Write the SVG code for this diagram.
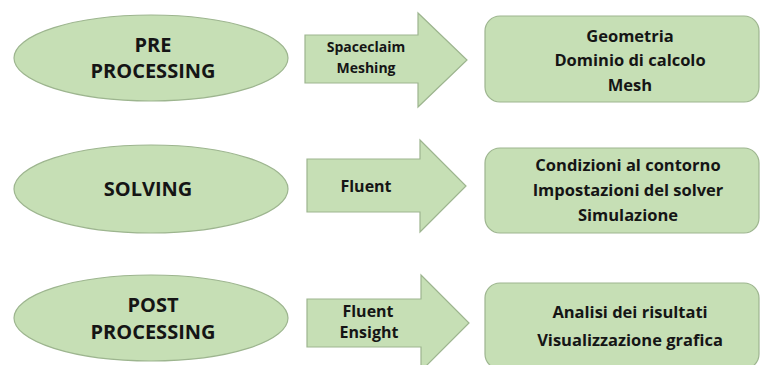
<svg xmlns="http://www.w3.org/2000/svg" width="760" height="365" viewBox="0 0 760 365">
<style>
.shape{fill:#c6dfb5;stroke:#9db58f;stroke-width:1.2}
text{font-family:"Open Sans","Liberation Sans",sans-serif;font-weight:bold;fill:#151515;text-anchor:middle}
.e{font-size:20px}
.a1{font-size:14px}
.a{font-size:16px}
.b{font-size:16.5px}
</style>
<rect width="760" height="365" fill="#ffffff"/>
<g id="connectors">
<g id="arrow1">
<path class="shape" d="M305,35 H418 V13 L467,60 L418,107 V83 H305 Z"/>
<text class="a1" x="366" y="52">Spaceclaim</text>
<text class="a1" x="366" y="73">Meshing</text>
</g>
<g id="arrow2">
<path class="shape" d="M307,159 H420 V140 L466,186 L420,232 V212 H307 Z"/>
<text class="a" x="366" y="192">Fluent</text>
</g>
<g id="arrow3">
<path class="shape" d="M307,299 H421 V275 L469,323 L421,371 V347 H307 Z"/>
<text class="a" x="368" y="317">Fluent</text>
<text class="a" x="369" y="338">Ensight</text>
</g>
</g>
<g id="pre">
<ellipse class="shape" cx="151" cy="58" rx="137" ry="43"/>
<text class="e" x="153" y="52">PRE</text>
<text class="e" x="153" y="78">PROCESSING</text>
</g>
<g id="solving">
<ellipse class="shape" cx="151" cy="189" rx="137" ry="44"/>
<text class="e" x="148" y="196">SOLVING</text>
</g>
<g id="post">
<ellipse class="shape" cx="151" cy="318" rx="137" ry="43"/>
<text class="e" x="153" y="312">POST</text>
<text class="e" x="153" y="339">PROCESSING</text>
</g>
<g id="box1">
<rect class="shape" x="485" y="16" width="274" height="86" rx="15"/>
<text class="b" x="630" y="42">Geometria</text>
<text class="b" x="630" y="66">Dominio di calcolo</text>
<text class="b" x="630" y="91">Mesh</text>
</g>
<g id="box2">
<rect class="shape" x="485" y="148" width="274" height="85" rx="15"/>
<text class="b" x="628" y="171">Condizioni al contorno</text>
<text class="b" x="628" y="196">Impostazioni del solver</text>
<text class="b" x="628" y="221">Simulazione</text>
</g>
<g id="box3">
<rect class="shape" x="485" y="283" width="274" height="86" rx="15"/>
<text class="b" x="630" y="318">Analisi dei risultati</text>
<text class="b" x="630" y="346">Visualizzazione grafica</text>
</g>
</svg>
